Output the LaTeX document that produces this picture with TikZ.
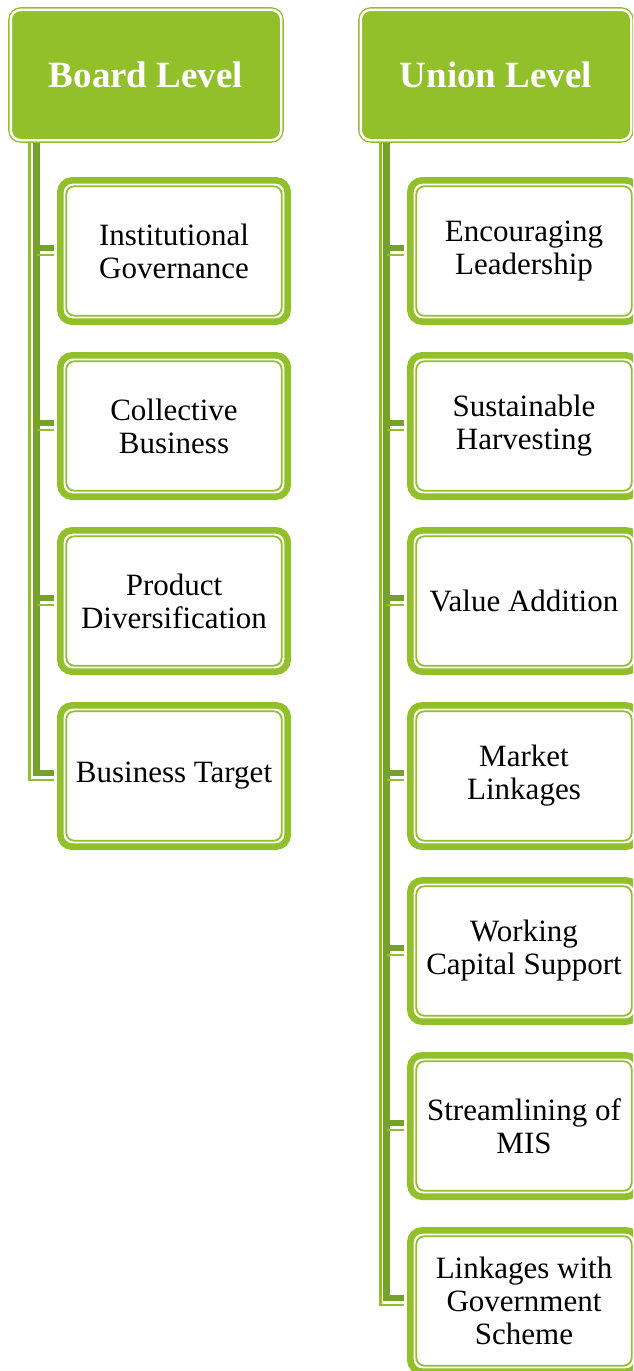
\documentclass[tikz,border=0pt]{standalone}
\usepackage{fontspec}
\setmainfont{Liberation Serif}
\definecolor{leafgreen}{HTML}{92C02B}
\definecolor{stemgreen}{HTML}{76A22C}

\begin{document}
\begin{tikzpicture}[x=0.5pt,y=-0.5pt,
  head/.style={rectangle,rounded corners=5pt,fill=leafgreen,draw=leafgreen,line width=0.7pt,
    double=white,double distance=1.2pt,minimum width=135.2pt,minimum height=65.2pt,
    text=white,font=\fontsize{18.5}{20}\selectfont\bfseries},
  item/.style={rectangle,rounded corners=6pt,draw=leafgreen,line width=3.3pt,fill=white,
    minimum width=113.7pt,minimum height=70.7pt,align=center,
    font=\fontsize{15.5}{16.5}\selectfont,
    path picture={\draw[leafgreen,line width=0.9pt,rounded corners=4pt]
      ([shift={(3pt,-3pt)}]path picture bounding box.north west) rectangle
      ([shift={(-3pt,3pt)}]path picture bounding box.south east);}},
  stem/.style={stemgreen,line width=3.3pt,shorten >=1.6pt},
  stemedge/.style={leafgreen,line width=1.1pt,shorten >=1.6pt}]
\clip (0,0) rectangle (633,1371);

\node (bhead) at (146,75) [head] {Board Level};
\node (uhead) at (496,75) [head] {Union Level};

\node (bc1) at (174,251) [item] {Institutional\\Governance};
\node (bc2) at (174,426) [item] {Collective\\Business};
\node (bc3) at (174,601) [item] {Product\\Diversification};
\node (bc4) at (174,776) [item] {Business Target};

\node (uc1) at (524,251)  [item] {Encouraging\\Leadership};
\node (uc2) at (524,426)  [item] {Sustainable\\Harvesting};
\node (uc3) at (524,601)  [item] {Value Addition};
\node (uc4) at (524,776)  [item] {Market\\Linkages};
\node (uc5) at (524,951)  [item] {Working\\Capital Support};
\node (uc6) at (524,1126) [item] {Streamlining of\\MIS};
\node (uc7) at (524,1301) [item] {Linkages with\\Government\\Scheme};

\coordinate (btrunk) at (36.5,143);
\coordinate (utrunk) at (386.5,143);

\draw[stemedge] ([xshift=-3.5pt]btrunk) |- ([yshift=-2pt]bc4.west);
\draw[stem] (btrunk) |- ([yshift=1.5pt]bc4.west);
\foreach \i in {1,...,3} {
  \draw[stemedge] ([yshift=-2pt]bc\i.west -| btrunk) -- ([yshift=-2pt]bc\i.west);
  \draw[stem] ([yshift=1.5pt]bc\i.west -| btrunk) -- ([yshift=1.5pt]bc\i.west);
}

\draw[stemedge] ([xshift=-3pt]utrunk) |- ([yshift=-2pt]uc7.west);
\draw[stem] (utrunk) |- ([yshift=1.5pt]uc7.west);
\foreach \i in {1,...,6} {
  \draw[stemedge] ([yshift=-2pt]uc\i.west -| utrunk) -- ([yshift=-2pt]uc\i.west);
  \draw[stem] ([yshift=1.5pt]uc\i.west -| utrunk) -- ([yshift=1.5pt]uc\i.west);
}
\end{tikzpicture}
\end{document}
